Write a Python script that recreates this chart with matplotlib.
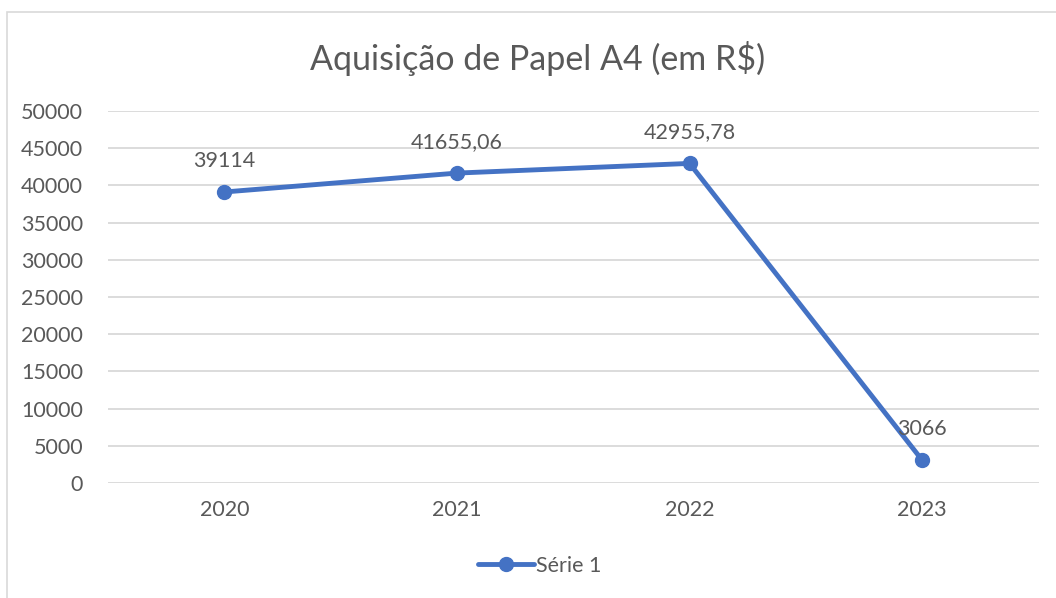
import matplotlib.pyplot as plt
from matplotlib.patches import Rectangle

years = ['2020', '2021', '2022', '2023']
values = [39114, 41655.06, 42955.78, 3066]
value_labels = ['39114', '41655,06', '42955,78', '3066']

plt.rcParams['font.family'] = ['Lato', 'DejaVu Sans']
TEXT = '#595959'
BLUE = '#4472C4'
GRID = '#D9D9D9'

fig = plt.figure(figsize=(10.56, 5.98), dpi=100)
fig.patches.append(Rectangle((7 / 1056, -0.1), 1.2, 1 - 12 / 598 + 0.1, transform=fig.transFigure,
                             fill=False, edgecolor=GRID, linewidth=1.2))

ax = fig.add_axes([108 / 1056, 115 / 598, 930.5 / 1056, 372 / 598])
x = range(len(years))
ax.plot(x, values, color=BLUE, linewidth=3.5, marker='o', markersize=10, label='Série 1',
        solid_capstyle='round', zorder=3)
for i, (v, lab) in enumerate(zip(values, value_labels)):
    ax.annotate(lab, (i, v), xytext=(0, 22.5), textcoords='offset points', ha='center', va='center',
                fontsize=15.5, color=TEXT)

ax.set_xlim(-0.5, 3.5)
ax.set_ylim(0, 50000)
ax.set_yticks(range(0, 50001, 5000))
ax.set_xticks(list(x))
ax.set_xticklabels(years)
ax.yaxis.grid(True, color=GRID, linewidth=1.3)
ax.set_axisbelow(True)
for s in ax.spines.values():
    s.set_visible(False)
ax.tick_params(length=0, labelsize=15.5, labelcolor=TEXT)
ax.tick_params(axis='x', pad=12)
ax.tick_params(axis='y', pad=18)

fig.text(538 / 1056, 1 - 58 / 598, 'Aquisição de Papel A4 (em R$)', ha='center', va='center',
         fontsize=24.5, color=TEXT)
fig.legend(loc='center', bbox_to_anchor=(540 / 1056, 1 - 566 / 598), frameon=False,
           fontsize=15.5, labelcolor=TEXT, handlelength=2.6, handletextpad=0.1)

fig.savefig('out.png', dpi=100)
